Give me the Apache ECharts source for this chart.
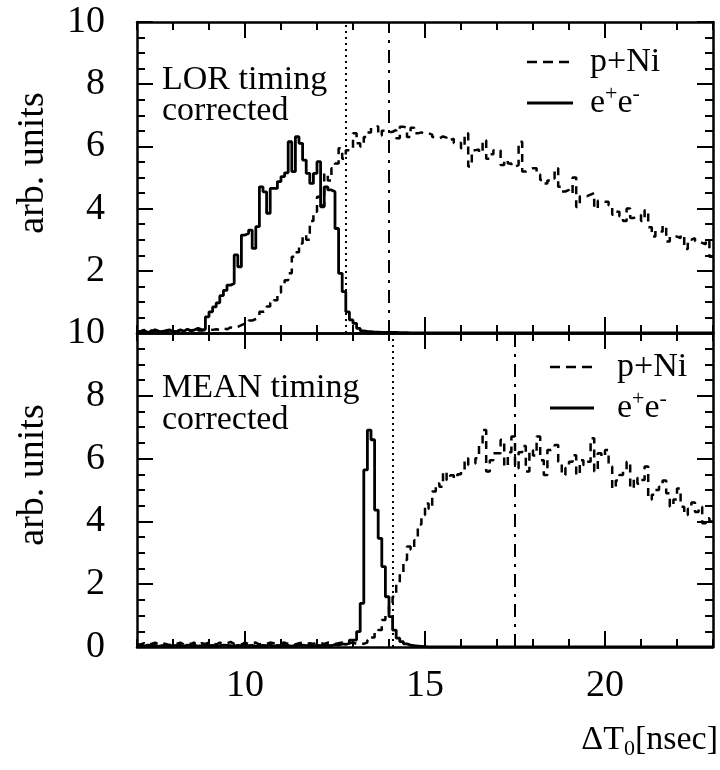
<!DOCTYPE html>
<html><head><meta charset="utf-8">
<script src="https://cdn.jsdelivr.net/npm/echarts@6/dist/echarts.min.js"></script>
<style>html,body{margin:0;padding:0;background:#fff}#c{width:720px;height:770px}</style>
</head><body><div id="c"></div>
<script>
// ---- data ----
const binStart = 7.0;
const binWidth = 0.1;
const xTickLabels = [10, 15, 20];
const lorCuts = [12.8, 14.0];   // dotted, dash-dot
const meanCuts = [14.1, 17.5];  // dotted, dash-dot

const lorPNi = [
0.05,0.10,0.05,0.08,0.03,0.10,0.06,0.05,0.08,0.12,
0.05,0.10,0.08,0.12,0.06,0.10,0.15,0.08,0.10,0.12,
0.10,0.12,0.10,0.15,0.12,0.18,0.15,0.20,0.25,0.30,
0.32,0.40,0.45,0.50,0.68,0.72,0.85,0.97,1.05,1.30,
1.59,1.70,1.92,2.45,2.60,2.88,3.15,3.00,3.60,3.90,
4.38,4.10,5.13,4.90,5.30,5.45,5.94,5.60,5.88,5.95,
6.42,6.10,6.00,6.30,6.45,6.60,6.65,6.35,6.50,6.45,
6.47,6.53,6.26,6.63,6.60,6.30,6.60,6.42,6.45,6.40,
6.42,6.38,6.30,6.26,6.32,6.28,6.20,6.25,6.10,6.12,
5.94,6.42,5.35,5.88,5.90,5.80,6.20,5.60,5.75,5.88,
5.88,5.40,5.56,5.45,5.35,5.40,6.15,5.19,5.25,5.30,
5.30,5.10,4.92,4.81,4.90,4.97,5.30,4.70,4.55,4.60,
4.50,5.00,4.05,4.40,4.40,4.45,4.50,4.00,4.25,4.22,
4.22,4.10,3.80,3.90,3.75,3.60,4.00,3.70,3.75,3.80,
3.60,3.95,3.40,3.10,3.30,3.25,3.45,2.94,3.10,3.10,
3.05,3.15,2.70,3.00,3.05,2.95,2.90,2.85,3.00,2.45
];
const lorEE = [
0.05,0.08,0.02,0.05,0.10,0.06,0.04,0.08,0.10,0.05,
0.04,0.10,0.06,0.12,0.08,0.10,0.15,0.10,0.12,0.52,
0.68,0.84,0.97,1.20,1.37,1.54,1.59,2.51,2.13,3.15,
3.20,3.31,2.72,3.42,4.70,4.54,3.85,4.65,4.65,4.87,
5.03,5.15,6.15,5.19,6.31,6.10,5.56,5.13,4.81,5.13,
5.51,4.06,4.70,4.60,4.54,3.36,1.92,1.33,0.68,0.42,
0.31,0.15,0.07,0.05,0.04,0.03,0.03,0.02,0.02,0.02,
0.02,0.02,0.01,0.01,0.01,0,0,0,0,0,
0,0,0,0,0,0,0,0,0,0,
0,0,0,0,0,0,0,0,0,0,
0,0,0,0,0,0,0,0,0,0,
0,0,0,0,0,0,0,0,0,0,
0,0,0,0,0,0,0,0,0,0,
0,0,0,0,0,0,0,0,0,0,
0,0,0,0,0,0,0,0,0,0,
0,0,0,0,0,0,0,0,0,0
];
const meanPNi = [
0.08,0.12,0.06,0.10,0.14,0.08,0.12,0.10,0.06,0.12,
0.10,0.14,0.08,0.12,0.10,0.15,0.08,0.12,0.10,0.14,
0.12,0.08,0.14,0.10,0.12,0.16,0.10,0.12,0.08,0.14,
0.10,0.12,0.14,0.08,0.12,0.10,0.14,0.12,0.10,0.12,
0.14,0.10,0.12,0.08,0.12,0.14,0.10,0.12,0.10,0.14,
0.12,0.10,0.14,0.12,0.10,0.12,0.14,0.10,0.12,0.14,
0.10,0.12,0.10,0.15,0.22,0.30,0.45,0.54,0.86,1.10,
1.30,1.60,2.03,2.35,2.77,3.20,3.10,3.40,3.90,4.20,
4.57,4.40,4.95,5.21,5.10,5.58,5.32,5.47,5.37,5.50,
5.59,6.01,5.80,5.85,6.01,6.48,6.91,5.59,5.95,6.17,
6.17,6.60,5.75,6.20,6.70,5.69,6.20,6.40,5.59,6.27,
6.10,6.70,5.95,5.48,6.27,6.30,6.43,5.90,5.48,5.70,
5.90,6.11,5.48,5.95,5.80,5.90,6.65,5.59,6.17,6.06,
6.27,5.75,5.05,5.30,5.48,5.60,5.90,5.05,5.40,5.20,
5.32,5.75,4.70,4.85,5.00,5.10,5.30,4.90,4.47,4.70,
5.05,4.47,4.20,4.40,4.60,4.30,4.47,3.94,4.10,4.00
];
const meanEE = [
0.05,0.03,0.06,0.04,0.05,0.02,0.04,0.06,0.03,0.05,
0.04,0.05,0.03,0.06,0.04,0.05,0.03,0.04,0.06,0.04,
0.05,0.03,0.04,0.06,0.05,0.04,0.03,0.05,0.04,0.06,
0.04,0.05,0.03,0.04,0.05,0.04,0.06,0.03,0.05,0.04,
0.05,0.04,0.03,0.05,0.04,0.06,0.04,0.05,0.03,0.05,
0.04,0.06,0.05,0.04,0.08,0.06,0.10,0.08,0.12,0.22,
0.22,0.49,1.39,5.64,6.91,6.60,4.36,3.46,2.56,1.60,
0.97,0.54,0.28,0.17,0.10,0.06,0.04,0.03,0.02,0.01,
0,0,0,0,0,0,0,0,0,0,
0,0,0,0,0,0,0,0,0,0,
0,0,0,0,0,0,0,0,0,0,
0,0,0,0,0,0,0,0,0,0,
0,0,0,0,0,0,0,0,0,0,
0,0,0,0,0,0,0,0,0,0,
0,0,0,0,0,0,0,0,0,0,
0,0,0,0,0,0,0,0,0,0
];

// ---- helpers ----
const FONT = 'Liberation Serif';
const BLK = '#000';
function hist(vals) {
  const pts = vals.map((v, i) => [+(binStart + i * binWidth).toFixed(3), v]);
  pts.push([+(binStart + vals.length * binWidth).toFixed(3), vals[vals.length - 1]]);
  return pts;
}
function xAx(gridIndex, position, major, labels) {
  return {
    type: 'value', gridIndex, position, min: 7, max: 23, interval: 1,
    axisLine: { show: !major, onZero: false, lineStyle: { color: BLK, width: 2.5 } },
    axisTick: major
      ? { show: true, inside: true, length: 16, customValues: xTickLabels, lineStyle: { color: BLK, width: 2 } }
      : { show: true, inside: true, length: 8, lineStyle: { color: BLK, width: 2 } },
    axisLabel: labels
      ? { show: true, customValues: xTickLabels, fontFamily: FONT, fontSize: 38, color: BLK, margin: 20 }
      : { show: false },
    splitLine: { show: false }
  };
}
function yAx(gridIndex, position, labels, showMin) {
  return {
    type: 'value', gridIndex, position, min: 0, max: 10, interval: 2,
    axisLine: { show: true, onZero: false, lineStyle: { color: BLK, width: 2.5 } },
    axisTick: { show: true, inside: true, length: 16, lineStyle: { color: BLK, width: 2 } },
    minorTick: { show: true, splitNumber: 4, length: 8, lineStyle: { color: BLK, width: 2 } },
    axisLabel: labels
      ? { show: true, showMinLabel: showMin, fontFamily: FONT, fontSize: 38, color: BLK, margin: 32 }
      : { show: false },
    splitLine: { show: false }, minorSplitLine: { show: false }
  };
}
function cutLines(cuts) {
  return {
    symbol: 'none', silent: true, label: { show: false }, animation: false,
    data: [
      { xAxis: cuts[0], lineStyle: { color: BLK, width: 2, type: [2, 4] } },
      { xAxis: cuts[1], lineStyle: { color: BLK, width: 2, type: [13, 7, 3, 7] } }
    ]
  };
}
const dashStyle = { color: BLK, width: 2.5, type: [8, 6] };
const solidStyle = { color: BLK, width: 2.8, type: 'solid' };

function legend(x1, x2, xt, y1, y2) {
  return [
    { type: 'line', shape: { x1, y1, x2, y2: y1 }, style: { stroke: BLK, lineWidth: 2.5, lineDash: [10, 6] } },
    { type: 'text', x: xt, y: y1, style: { text: 'p+Ni', font: '34px "' + FONT + '"', fill: BLK, textVerticalAlign: 'middle' } },
    { type: 'line', shape: { x1, y1: y2, x2, y2 }, style: { stroke: BLK, lineWidth: 2.8 } },
    { type: 'text', x: xt, y: y2, style: {
        text: '{n|e}{s|+}{n|e}{s|-}', textVerticalAlign: 'middle', fill: BLK,
        rich: { n: { fontFamily: FONT, fontSize: 34, lineHeight: 40, fill: BLK }, s: { fontFamily: FONT, fontSize: 22, verticalAlign: 'top', lineHeight: 22, fill: BLK } }
    } }
  ];
}

const chart = echarts.init(document.getElementById('c'), null, { renderer: 'canvas' });
chart.setOption({
  animation: false,
  backgroundColor: '#fff',
  grid: [
    { left: 137, top: 22, width: 576, height: 311 },
    { left: 137, top: 333, width: 576, height: 314 }
  ],
  xAxis: [
    xAx(0, 'bottom', false, false), xAx(0, 'bottom', true, false),
    xAx(0, 'top', false, false), xAx(0, 'top', true, false),
    xAx(1, 'bottom', false, false), xAx(1, 'bottom', true, true),
    xAx(1, 'top', false, false), xAx(1, 'top', true, false)
  ],
  yAxis: [
    yAx(0, 'left', true, false), yAx(0, 'right', false, false),
    yAx(1, 'left', true, true), yAx(1, 'right', false, false)
  ],
  series: [
    { name: 'p+Ni LOR', type: 'line', xAxisIndex: 0, yAxisIndex: 0, step: 'end', showSymbol: false, symbol: 'none',
      data: hist(lorPNi), lineStyle: dashStyle, markLine: cutLines(lorCuts) },
    { name: 'ee LOR', type: 'line', xAxisIndex: 0, yAxisIndex: 0, step: 'end', showSymbol: false, symbol: 'none',
      data: hist(lorEE), lineStyle: solidStyle },
    { name: 'p+Ni MEAN', type: 'line', xAxisIndex: 4, yAxisIndex: 2, step: 'end', showSymbol: false, symbol: 'none',
      data: hist(meanPNi), lineStyle: dashStyle, markLine: cutLines(meanCuts) },
    { name: 'ee MEAN', type: 'line', xAxisIndex: 4, yAxisIndex: 2, step: 'end', showSymbol: false, symbol: 'none',
      data: hist(meanEE), lineStyle: solidStyle }
  ],
  graphic: [
    { type: 'text', x: 33, y: 163, rotation: Math.PI / 2, style: { text: 'arb. units', font: '38px "' + FONT + '"', fill: BLK, textAlign: 'center', textVerticalAlign: 'middle' } },
    { type: 'text', x: 33, y: 475, rotation: Math.PI / 2, style: { text: 'arb. units', font: '38px "' + FONT + '"', fill: BLK, textAlign: 'center', textVerticalAlign: 'middle' } },
    { type: 'text', x: 162, y: 80, style: { text: 'LOR timing', font: '34px "' + FONT + '"', fill: BLK, textVerticalAlign: 'middle' } },
    { type: 'text', x: 162, y: 111, style: { text: 'corrected', font: '34px "' + FONT + '"', fill: BLK, textVerticalAlign: 'middle' } },
    { type: 'text', x: 162, y: 388, style: { text: 'MEAN timing', font: '34px "' + FONT + '"', fill: BLK, textVerticalAlign: 'middle' } },
    { type: 'text', x: 162, y: 420, style: { text: 'corrected', font: '34px "' + FONT + '"', fill: BLK, textVerticalAlign: 'middle' } },
    ...legend(527, 573, 590, 62, 103),
    ...legend(550, 594, 617, 367, 408),
    { type: 'text', x: 718, y: 740, style: {
        text: '{n|ΔT}{sub|0}{n|[nsec]}', textAlign: 'right', textVerticalAlign: 'middle', fill: BLK,
        rich: { n: { fontFamily: FONT, fontSize: 34, lineHeight: 40, fill: BLK }, sub: { fontFamily: FONT, fontSize: 22, verticalAlign: 'bottom', lineHeight: 22, fill: BLK } }
    } }
  ]
});
</script>
</body></html>
